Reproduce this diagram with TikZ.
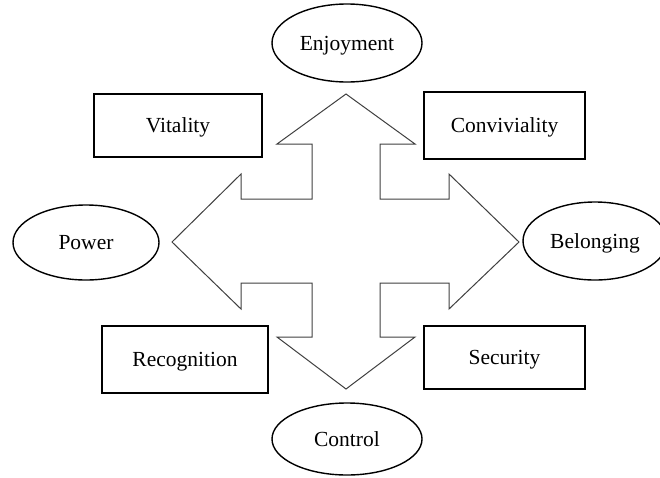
\documentclass[tikz,border=0pt]{standalone}
\usepackage{fontspec}
\setmainfont{Liberation Serif}
\usetikzlibrary{shapes.geometric}
\begin{document}
\begin{tikzpicture}[x=1pt,y=-1pt,
  boxnode/.style={draw=black,line width=1.5pt,rectangle,inner sep=0pt,text height=14pt,text depth=0pt,font=\fontsize{21.5}{25}\selectfont},
  ovalnode/.style={draw=black,line width=1.4pt,ellipse,inner sep=0pt,text height=14pt,text depth=0pt,font=\fontsize{21.5}{25}\selectfont},
  bigarrow/.style={draw=black!75,line width=1pt,line join=miter,fill=white}]
\useasboundingbox (0,0) rectangle (660,477);
% four-way arrow
\draw[bigarrow] (346,94) -- (415,144) -- (380,144) -- (380,199) -- (449,199) -- (449,174)
  -- (519,242) -- (449,309) -- (449,283) -- (380,283) -- (380,337) -- (415,337)
  -- (346,389) -- (277,337) -- (312,337) -- (312,283) -- (241,283) -- (241,309)
  -- (172,242) -- (241,174) -- (241,199) -- (312,199) -- (312,144) -- (277,144) -- cycle;
% boxes
\node[boxnode,minimum width=168pt,minimum height=63pt] (vit) at (178,125.5) {Vitality};
\node[boxnode,minimum width=161pt,minimum height=67pt] (con) at (504.5,125.5) {Conviviality};
\node[boxnode,minimum width=166pt,minimum height=67pt] (rec) at (185,359.5) {Recognition};
\node[boxnode,minimum width=161pt,minimum height=63pt] (sec) at (504.5,357.5) {Security};
% ovals
\node[ovalnode,minimum width=150pt,minimum height=78pt] (enj) at (347,43) {Enjoyment};
\node[ovalnode,minimum width=146pt,minimum height=75pt] (pow) at (86,242.5) {Power};
\node[ovalnode,minimum width=144pt,minimum height=78pt] (bel) at (595,241) {Belonging};
\node[ovalnode,minimum width=150pt,minimum height=72pt] (ctl) at (347,439) {Control};
\end{tikzpicture}
\end{document}
